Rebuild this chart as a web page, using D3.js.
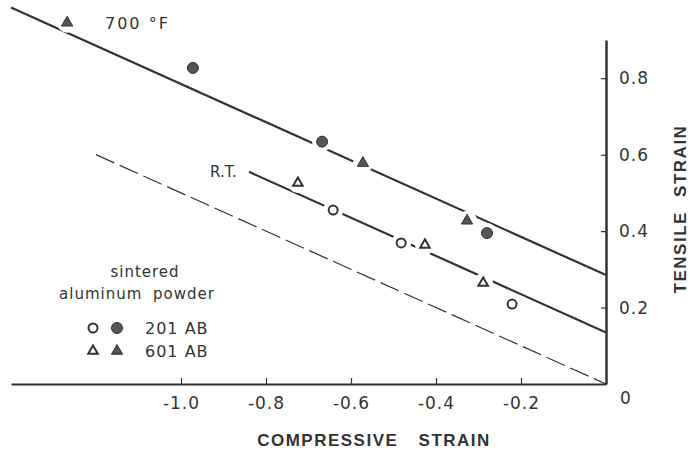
<!DOCTYPE html>
<html>
<head>
<meta charset="utf-8">
<script src="https://cdn.jsdelivr.net/npm/d3@7"></script>
<style>
  body { margin: 0; background: #fff; }
  svg { font-family: "DejaVu Sans", sans-serif; }
</style>
</head>
<body>
<div id="chart"></div>
<script>
var svgWidth = 695;
var svgHeight = 456;
var ink = "#333";

// fitted lines, [compressive, tensile] end points
var hotLine = [[-1.4, 0.985], [0, 0.285]];
var rtLine = [[-0.84, 0.555], [0, 0.135]];
var refLine = [[-1.2, 0.6], [0, 0]];

// measured points
var rt201 = [[-0.642, 0.455], [-0.482, 0.369], [-0.221, 0.209]];
var rt601 = [[-0.725, 0.526], [-0.426, 0.364], [-0.289, 0.264]];
var hot201 = [[-0.972, 0.827], [-0.668, 0.634], [-0.28, 0.395]];
var hot601 = [[-1.268, 0.945], [-0.572, 0.578], [-0.327, 0.427]];

var xTicks = [-1.0, -0.8, -0.6, -0.4, -0.2];
var xTickLabels = ["-1.0", "-0.8", "-0.6", "-0.4", "-0.2"];
var yTicks = [0.2, 0.4, 0.6, 0.8];
var yTickLabels = ["0.2", "0.4", "0.6", "0.8"];

var svg = d3.select("#chart")
    .append("svg")
    .attr("width", svgWidth)
    .attr("height", svgHeight);

var x = d3.scaleLinear().domain([-1.4, 0]).range([11, 606]);
var y = d3.scaleLinear().domain([0, 0.9]).range([384, 40]);

var line = d3.line().x(d => x(d[0])).y(d => y(d[1]));

svg.append("path").attr("d", line(hotLine))
    .attr("fill", "none").attr("stroke", ink).attr("stroke-width", 2.2);
svg.append("path").attr("d", line(rtLine))
    .attr("fill", "none").attr("stroke", ink).attr("stroke-width", 2.2);
svg.append("path").attr("d", line(refLine))
    .attr("fill", "none").attr("stroke", ink).attr("stroke-width", 1.2)
    .attr("stroke-dasharray", "20,6");

// white halos so lines break at the markers
var allPts = rt201.concat(rt601, hot201, hot601);
svg.append("g").selectAll("circle")
    .data(allPts)
    .enter()
    .append("circle")
    .attr("cx", d => x(d[0]))
    .attr("cy", d => y(d[1]))
    .attr("r", 10)
    .attr("fill", "#fff");

// axes
var xAxis = d3.axisBottom(x)
    .tickValues(xTicks)
    .tickFormat((d, i) => xTickLabels[i])
    .tickSizeInner(-6)
    .tickSizeOuter(0)
    .tickPadding(13);
var gx = svg.append("g").attr("transform", "translate(0," + y(0) + ")").call(xAxis);

var yAxis = d3.axisRight(y)
    .tickValues(yTicks)
    .tickFormat((d, i) => yTickLabels[i])
    .tickSizeInner(-5)
    .tickSizeOuter(0)
    .tickPadding(13);
var gy = svg.append("g").attr("transform", "translate(" + x(0) + ",0)").call(yAxis);

gx.select(".domain").attr("stroke", ink).attr("stroke-width", 2);
gy.select(".domain").attr("stroke", ink).attr("stroke-width", 2.5);
svg.selectAll(".tick line").attr("stroke", ink).attr("stroke-width", 1.2);
svg.selectAll(".tick text")
    .attr("fill", ink)
    .style("font-family", "DejaVu Sans")
    .style("font-size", "17px")
    .style("letter-spacing", "1px");

svg.append("text")
    .attr("x", x(0) + 14)
    .attr("y", y(0) + 20)
    .attr("fill", ink)
    .style("font-size", "17px")
    .text("0");

// markers
function drawCircles(data, filled) {
    svg.append("g").selectAll("circle")
        .data(data)
        .enter()
        .append("circle")
        .attr("cx", d => x(d[0]))
        .attr("cy", d => y(d[1]))
        .attr("r", filled ? 5.5 : 4.5)
        .attr("fill", filled ? "#555" : "#fff")
        .attr("stroke", ink)
        .attr("stroke-width", filled ? 1 : 2);
}
function drawTriangles(data, filled) {
    svg.append("g").selectAll("path")
        .data(data)
        .enter()
        .append("path")
        .attr("transform", d => "translate(" + x(d[0]) + "," + y(d[1]) + ")")
        .attr("d", d3.symbol().type(d3.symbolTriangle).size(filled ? 55 : 40))
        .attr("fill", filled ? "#555" : "#fff")
        .attr("stroke", ink)
        .attr("stroke-width", filled ? 1 : 2);
}
drawCircles(rt201, false);
drawCircles(hot201, true);
drawTriangles(rt601, false);
drawTriangles(hot601, true);

// labels on lines
svg.append("text").attr("x", 105).attr("y", 29)
    .attr("fill", ink).style("font-size", "16px").style("letter-spacing", "2px")
    .text("700 °F");
svg.append("text").attr("x", 210).attr("y", 177)
    .attr("fill", ink).style("font-size", "15px")
    .text("R.T.");

// legend
svg.append("text").attr("x", 145).attr("y", 277)
    .attr("text-anchor", "middle")
    .attr("fill", ink).style("font-size", "15px").style("letter-spacing", "1px")
    .text("sintered");
svg.append("text").attr("x", 137).attr("y", 299)
    .attr("text-anchor", "middle")
    .attr("fill", ink).style("font-size", "15px").style("letter-spacing", "1px")
    .style("word-spacing", "5px")
    .text("aluminum powder");

var legendRows = ["201 AB", "601 AB"];
var legendY = [328, 351];
legendRows.forEach(function(label, i) {
    var ly = legendY[i];
    if (i === 0) {
        svg.append("circle").attr("cx", 93).attr("cy", ly).attr("r", 4.5)
            .attr("fill", "#fff").attr("stroke", ink).attr("stroke-width", 2);
        svg.append("circle").attr("cx", 117).attr("cy", ly).attr("r", 5.5)
            .attr("fill", "#555").attr("stroke", ink).attr("stroke-width", 1);
    } else {
        svg.append("path").attr("transform", "translate(93," + ly + ")")
            .attr("d", d3.symbol().type(d3.symbolTriangle).size(40))
            .attr("fill", "#fff").attr("stroke", ink).attr("stroke-width", 2);
        svg.append("path").attr("transform", "translate(117," + ly + ")")
            .attr("d", d3.symbol().type(d3.symbolTriangle).size(55))
            .attr("fill", "#555").attr("stroke", ink).attr("stroke-width", 1);
    }
    svg.append("text").attr("x", 145).attr("y", ly + 6)
        .attr("fill", ink).style("font-size", "16px").style("letter-spacing", "1px")
        .text(label);
});

// axis titles
svg.append("text")
    .attr("x", 374)
    .attr("y", 446)
    .attr("text-anchor", "middle")
    .attr("fill", ink)
    .style("font-family", "Liberation Sans")
    .style("font-weight", "bold")
    .style("font-size", "17px")
    .style("letter-spacing", "1.5px")
    .style("word-spacing", "14px")
    .text("COMPRESSIVE STRAIN");

svg.append("text")
    .attr("transform", "translate(686,209) rotate(-90)")
    .attr("text-anchor", "middle")
    .attr("fill", ink)
    .style("font-family", "Liberation Sans")
    .style("font-weight", "bold")
    .style("font-size", "17px")
    .style("letter-spacing", "1.5px")
    .style("word-spacing", "8px")
    .text("TENSILE STRAIN");
</script>
</body>
</html>
